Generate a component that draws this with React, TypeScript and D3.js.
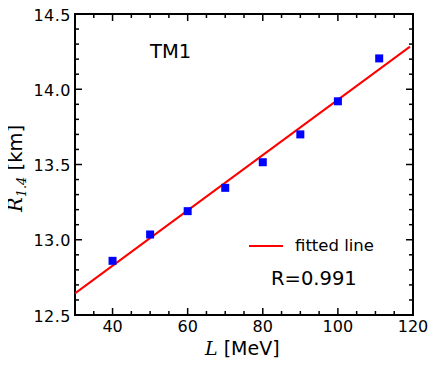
import * as d3 from 'd3';
import { useEffect, useRef } from 'react';

const lValues = [40, 50, 60, 70, 80, 90, 100, 111];
const radiusValues = [12.86, 13.035, 13.19, 13.345, 13.515, 13.70, 13.92, 14.205];
const fitL = [30, 119.2];
const fitR = [12.644, 14.283];
const xTicks = [40, 60, 80, 100, 120];
const yTicks = [12.5, 13.0, 13.5, 14.0, 14.5];

export default function App() {
    const ref = useRef<SVGSVGElement>(null);

    useEffect(() => {
        const width = 436;
        const height = 367;
        const margin = { top: 14, right: 23, bottom: 52, left: 75 };
        const font = 'DejaVu Sans, Verdana, sans-serif';
        const serif = 'DejaVu Serif, serif';

        const svg = d3.select(ref.current);
        svg.selectAll('*').remove();

        const x = d3.scaleLinear().domain([30, 120]).range([margin.left, width - margin.right]);
        const y = d3.scaleLinear().domain([12.5, 14.5]).range([height - margin.bottom, margin.top]);

        const x0 = x.range()[0], x1 = x.range()[1];
        const y0 = y.range()[0], y1 = y.range()[1];

        // inward ticks on all four sides
        const ticks = svg.append('g').attr('stroke', 'black').attr('stroke-width', 1.5);
        d3.range(30, 121, 5).forEach(v => {
            const len = v % 20 === 0 ? 7 : 4;
            ticks.append('line').attr('x1', x(v)).attr('x2', x(v)).attr('y1', y0).attr('y2', y0 - len);
            ticks.append('line').attr('x1', x(v)).attr('x2', x(v)).attr('y1', y1).attr('y2', y1 + len);
        });
        d3.range(0, 21).forEach(i => {
            const v = 12.5 + i * 0.1;
            const len = i % 5 === 0 ? 7 : 4;
            ticks.append('line').attr('y1', y(v)).attr('y2', y(v)).attr('x1', x0).attr('x2', x0 + len);
            ticks.append('line').attr('y1', y(v)).attr('y2', y(v)).attr('x1', x1).attr('x2', x1 - len);
        });

        svg.append('rect')
            .attr('x', x0).attr('y', y1)
            .attr('width', x1 - x0).attr('height', y0 - y1)
            .attr('fill', 'none').attr('stroke', 'black').attr('stroke-width', 2);

        svg.append('g').selectAll('text').data(xTicks).join('text')
            .attr('x', d => x(d)).attr('y', y0 + 16.5)
            .attr('text-anchor', 'middle')
            .attr('font-family', font).attr('font-size', 16)
            .text(d => d);

        svg.append('g').selectAll('text').data(yTicks).join('text')
            .attr('x', x0 - 4).attr('y', d => y(d) + 6.5)
            .attr('text-anchor', 'end')
            .attr('font-family', font).attr('font-size', 16)
            .attr('letter-spacing', 0.5)
            .text(d => d.toFixed(1));

        // fitted line
        svg.append('line')
            .attr('x1', x(fitL[0])).attr('y1', y(fitR[0]))
            .attr('x2', x(fitL[1])).attr('y2', y(fitR[1]))
            .attr('stroke', '#ff0000').attr('stroke-width', 2);

        svg.append('g').selectAll('rect').data(lValues).join('rect')
            .attr('x', (d) => x(d) - 4)
            .attr('y', (d, i) => y(radiusValues[i]) - 4)
            .attr('width', 8).attr('height', 8)
            .attr('fill', '#0000ff');

        svg.append('text')
            .attr('x', 150).attr('y', 58)
            .attr('font-family', font).attr('font-size', 19.5)
            .text('TM1');

        // legend
        svg.append('line')
            .attr('x1', 249).attr('x2', 283).attr('y1', 246).attr('y2', 246)
            .attr('stroke', '#ff0000').attr('stroke-width', 2);
        svg.append('text')
            .attr('x', 295).attr('y', 251)
            .attr('font-family', font).attr('font-size', 16.5)
            .text('fitted line');
        svg.append('text')
            .attr('x', 271).attr('y', 285)
            .attr('font-family', font).attr('font-size', 19.5)
            .text('R=0.991');

        // axis titles
        const xl = svg.append('text')
            .attr('x', 205).attr('y', 355)
            .attr('font-family', font).attr('font-size', 19);
        xl.append('tspan').attr('font-family', serif).attr('font-style', 'italic').text('L');
        xl.append('tspan').text(' [MeV]');

        const yl = svg.append('text')
            .attr('transform', `translate(22,${(y0 + y1) / 2 + 4}) rotate(-90)`)
            .attr('text-anchor', 'middle')
            .attr('font-family', font).attr('font-size', 19.5);
        yl.append('tspan').attr('font-family', serif).attr('font-style', 'italic').text('R');
        yl.append('tspan').attr('font-family', serif).attr('font-style', 'italic')
            .attr('font-size', 13).attr('dy', 4).text('1.4');
        yl.append('tspan').attr('dy', -4).text(' [km]');
    }, []);

    return (
        <div style={{ margin: -8 }}>
            <svg ref={ref} width={436} height={367} style={{ display: 'block', background: 'white' }} />
        </div>
    );
}
